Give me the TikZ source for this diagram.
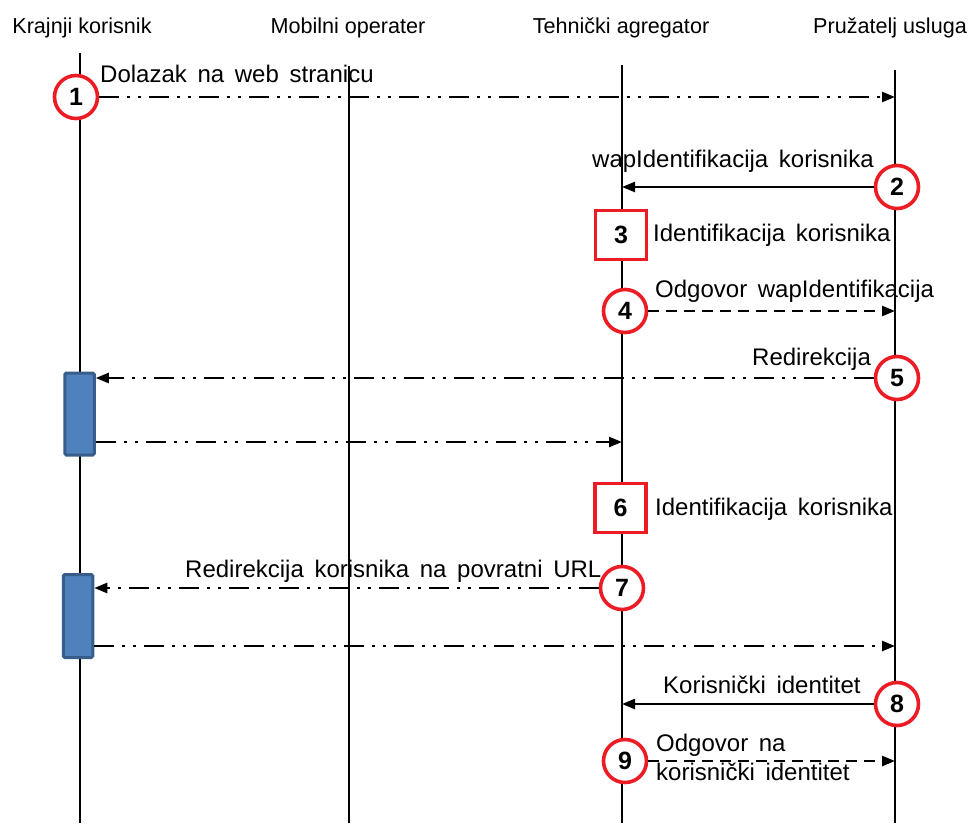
\documentclass[tikz,border=0pt]{standalone}
\usepackage{fontspec}
\setmainfont{Liberation Sans}
\newfontfamily\lblfont[WordSpace=1.6]{Liberation Sans}
\usetikzlibrary{arrows.meta}
\definecolor{numred}{RGB}{236,28,36}
\definecolor{actfill}{RGB}{79,129,189}
\definecolor{actdraw}{RGB}{56,93,138}
\tikzset{
  lifeline/.style={line width=2.4pt, black},
  hdr/.style={anchor=base, inner sep=0pt, font=\fontsize{21.6}{24}\selectfont},
  lbl/.style={anchor=base west, inner sep=0pt, font=\lblfont\fontsize{24}{29}\selectfont},
  numcirc/.style={circle, draw=numred, line width=3.6pt, fill=white, minimum size=43pt, inner sep=0pt, font=\fontsize{25}{25}\selectfont\bfseries},
  numbox/.style={rectangle, draw=numred, line width=3.6pt, fill=white, minimum width=51pt, minimum height=49pt, inner sep=0pt, font=\fontsize{25}{25}\selectfont\bfseries},
  actbox/.style={rectangle, draw=actdraw, fill=actfill, line width=3pt, rounded corners=1.5pt, minimum width=29.5pt, minimum height=82pt, inner sep=0pt},
  msgtip/.style={-{Triangle[length=13pt,width=10pt]}},
  ddot/.style={msgtip, line width=2.4pt, dash pattern=on 20pt off 8pt on 3pt off 8pt on 3pt off 8pt},
  solidmsg/.style={msgtip, line width=2.4pt},
  dashmsg/.style={msgtip, line width=2.4pt, dash pattern=on 11pt off 7pt}
}
\begin{document}
\begin{tikzpicture}[x=1pt,y=-1pt]
\useasboundingbox (0,0) rectangle (970,823);
% headers
\node[hdr] (h1) at (82,33) {Krajnji korisnik};
\node[hdr] (h2) at (348,33) {Mobilni operater};
\node[hdr] (h3) at (621,33) {Tehnički agregator};
\node[hdr] (h4) at (890,33) {Pružatelj usluga};
% lifelines
\coordinate (L1t) at (80,53);  \coordinate (L1b) at (80,823);
\coordinate (L2t) at (349,66); \coordinate (L2b) at (349,823);
\coordinate (L3t) at (622,65); \coordinate (L3b) at (622,823);
\coordinate (L4t) at (895,70); \coordinate (L4b) at (895,823);
\draw[lifeline] (L1t) -- (L1b);
\draw[lifeline] (L2t) -- (L2b);
\draw[lifeline] (L3t) -- (L3b);
\draw[lifeline] (L4t) -- (L4b);
% activation boxes
\node[actbox] (act1) at (79.5,414) {};
\node[actbox, minimum height=83pt] (act2) at (78,616) {};
% numbered markers
\node[numcirc] (n1) at (76,97) {1};
\node[numcirc] (n2) at (897,187) {2};
\node[numbox]  (n3) at (621,235) {3};
\node[numcirc] (n4) at (625,311) {4};
\node[numcirc] (n5) at (897,378) {5};
\node[numbox]  (n6) at (620.5,508) {6};
\node[numcirc] (n7) at (622,588) {7};
\node[numcirc] (n8) at (897,704) {8};
\node[numcirc] (n9) at (625,761) {9};
% messages
\draw[ddot] (n1.east) -- (n1.east -| L4t);
\draw[solidmsg] (n2.west) -- (n2.west -| L3t);
\draw[dashmsg] (n4.east) -- (n4.east -| L4t);
\draw[ddot] (n5.west) -- (n5.west -| act1.east);
\coordinate (a1out) at ([yshift=-28pt]act1.east);
\draw[ddot] (a1out) -- (a1out -| L3t);
\draw[ddot] (n7.west) -- (n7.west -| act2.east);
\coordinate (a2out) at ([yshift=-30pt]act2.east);
\draw[ddot] (a2out) -- (a2out -| L4t);
\draw[solidmsg] (n8.west) -- (n8.west -| L3t);
\draw[dashmsg] (n9.east) -- (n9.east -| L4t);
% labels
\node[lbl] (t1) at (100,82) {Dolazak na web stranicu};
\node[lbl] (t2) at (592,167) {wapIdentifikacija korisnika};
\node[lbl] (t3) at (653,241) {Identifikacija korisnika};
\node[lbl] (t4) at (655,297) {Odgovor wapIdentifikacija};
\node[lbl] (t5) at (752,365) {Redirekcija};
\node[lbl] (t6) at (655,515) {Identifikacija korisnika};
\node[lbl] (t7) at (185,577) {Redirekcija korisnika na povratni URL};
\node[lbl] (t8) at (663,693) {Korisnički identitet};
\node[lbl] (t9a) at (656,751) {Odgovor na};
\node[lbl] (t9b) at (656,780) {korisnički identitet};
\end{tikzpicture}
\end{document}
